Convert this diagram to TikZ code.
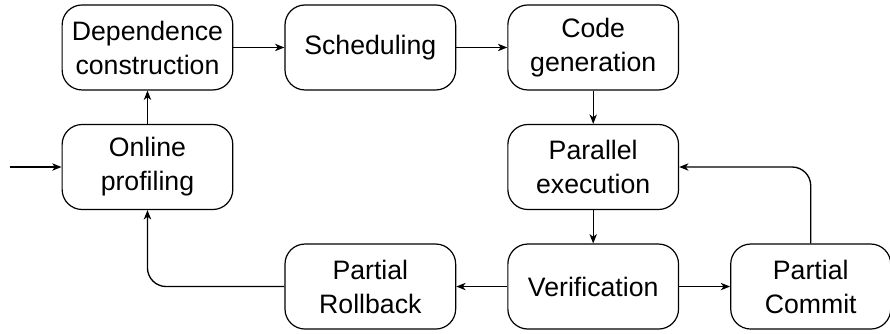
\documentclass[tikz,border=0pt]{standalone}
\usepackage{fontspec}
\setmainfont{Liberation Sans}
\usetikzlibrary{positioning,arrows.meta}

\begin{document}
\begin{tikzpicture}[
  arrow/.style={-{Stealth[length=7pt, width=5.5pt, inset=2pt]}, line width=1pt},
  stage/.style={draw, line width=0.9pt, rounded corners=15pt, align=center,
    minimum width=128pt, minimum height=63.75pt, inner sep=2pt,
    font=\fontsize{20}{25.5}\selectfont},
  node distance=25pt and 38.25pt,
]
\useasboundingbox (0,0) rectangle (667.5pt,-249.75pt);

% === TOP ROW ===
\node[stage] (dep) at (110.6pt,-35.6pt) {Dependence\\construction};
\node[stage, right=of dep] (sched) {Scheduling};
\node[stage, right=of sched] (codegen) {Code\\generation};

% === MIDDLE ROW ===
\node[stage, below=of dep] (online) {Online\\profiling};
\node[stage, below=of codegen] (parexec) {Parallel\\execution};

% === BOTTOM ROW ===
\node[stage, below=of parexec] (verif) {Verification};
\node[stage, right=of verif, minimum width=120pt] (commit) {Partial\\Commit};
\node[stage, left=of verif] (rollback) {Partial\\Rollback};

\coordinate[left=39pt of online] (entry);

% === FLOW ===
\draw[arrow] (entry) -- (online);
\draw[arrow] (online) -- (dep);
\draw[arrow] (dep) -- (sched);
\draw[arrow] (sched) -- (codegen);
\draw[arrow] (codegen) -- (parexec);
\draw[arrow] (parexec) -- (verif);
\draw[arrow] (verif) -- (commit);
\draw[arrow] (verif) -- (rollback);
\draw[arrow, rounded corners=14pt] (rollback.west) -| (online.south);
\draw[arrow, rounded corners=14pt] (commit.north) |- (parexec.east);
\end{tikzpicture}
\end{document}
